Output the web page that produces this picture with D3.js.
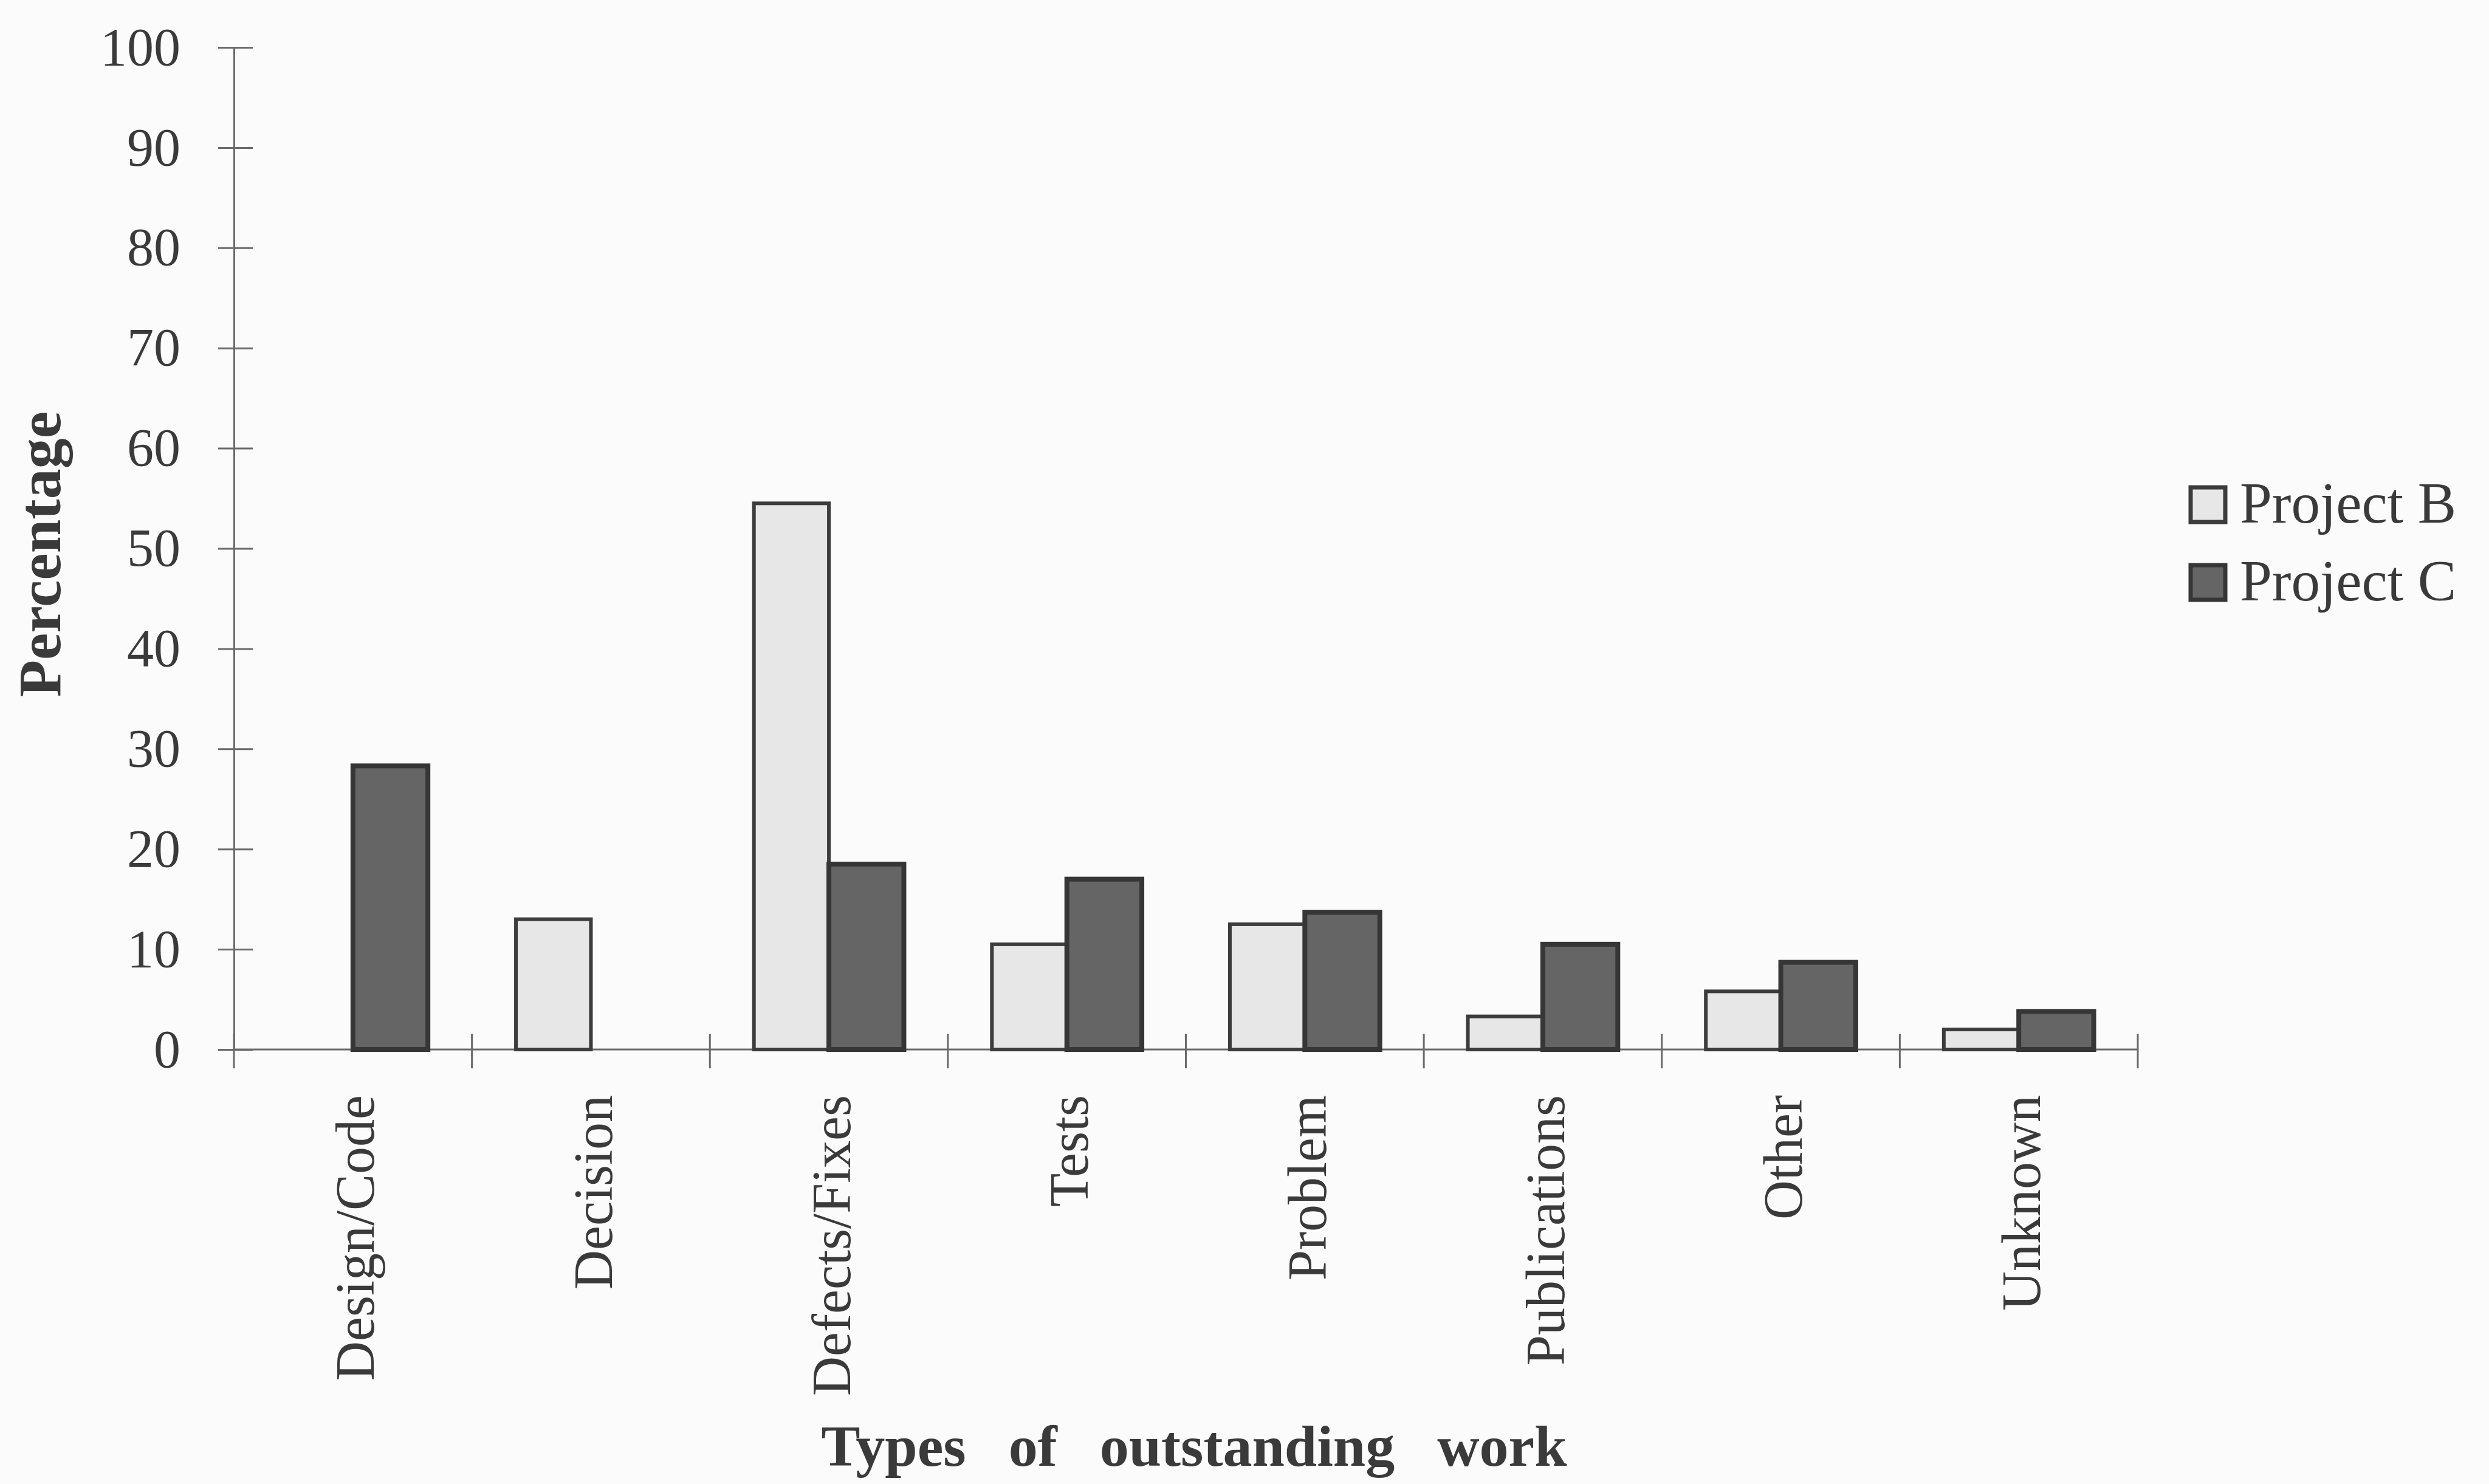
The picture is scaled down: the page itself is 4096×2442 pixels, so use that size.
<!DOCTYPE html>
<html>
<head>
<meta charset="utf-8">
<script src="https://cdn.jsdelivr.net/npm/d3@7"></script>
<style>
  html, body { margin: 0; padding: 0; background: #fbfbfb; }
  svg { display: block; }
  text { font-family: "Liberation Serif", "Times New Roman", serif; fill: #3a3a3a; }
</style>
</head>
<body>
<script>
// Outstanding work by type, two projects (percent of items)
const categories = ["Design/Code", "Decision", "Defects/Fixes", "Tests", "Problem", "Publications", "Other", "Unknown"];
const seriesNames = ["Project B", "Project C"];
const projectB = [0, 13, 54.5, 10.5, 12.5, 3.3, 5.8, 2.0];
const projectC = [28.3, 0, 18.5, 17.0, 13.7, 10.5, 8.7, 3.8];
const yTicks = [0, 10, 20, 30, 40, 50, 60, 70, 80, 90, 100];

const W = 4096, H = 2442;
const plot = { left: 385, right: 3518, top: 78, bottom: 1727 };

const fills = { "Project B": "#e7e7e7", "Project C": "#656565" };
const strokes = { "Project B": "#3c3c3c", "Project C": "#363636" };

const svg = d3.select("body").append("svg")
  .attr("width", W).attr("height", H);

svg.append("rect").attr("width", W).attr("height", H).attr("fill", "#fbfbfb");

const y = d3.scaleLinear().domain([0, 100]).range([plot.bottom, plot.top]);

const x0 = d3.scaleBand()
  .domain(categories)
  .range([plot.left, plot.right])
  .paddingInner(0.37)
  .paddingOuter(0.185);

const x1 = d3.scaleBand()
  .domain(seriesNames)
  .range([0, x0.bandwidth()])
  .padding(0);

const rows = categories.map((c, i) => ({
  category: c,
  values: [
    { series: "Project B", value: projectB[i] },
    { series: "Project C", value: projectC[i] }
  ]
}));

// Y axis: ticks cross the axis line
const yAxis = d3.axisLeft(y).tickValues(yTicks).tickSizeInner(0).tickSizeOuter(0).tickPadding(88);
const gy = svg.append("g").attr("transform", `translate(${plot.left},0)`).call(yAxis);
gy.select(".domain").attr("stroke", "#6a6a6a").attr("stroke-width", 3);
gy.selectAll(".tick line").attr("x1", -26).attr("x2", 31).attr("stroke", "#6a6a6a").attr("stroke-width", 3);
gy.selectAll(".tick text").attr("font-size", 88).attr("fill", "#3a3a3a")
  .style("font-family", "'Liberation Serif', serif");

// X axis baseline with boundary ticks between categories
const boundaries = categories.map(c => x0(c) - x0.step() * x0.paddingOuter());
boundaries.push(plot.right);
const gx = svg.append("g");
gx.append("line")
  .attr("x1", plot.left).attr("x2", plot.right)
  .attr("y1", y(0)).attr("y2", y(0))
  .attr("stroke", "#6a6a6a").attr("stroke-width", 3);
gx.selectAll("line.bt").data(boundaries).join("line")
  .attr("class", "bt")
  .attr("x1", d => d).attr("x2", d => d)
  .attr("y1", y(0) - 26).attr("y2", y(0) + 31)
  .attr("stroke", "#6a6a6a").attr("stroke-width", 3);

// Bars
const groups = svg.append("g").selectAll("g").data(rows).join("g")
  .attr("transform", d => `translate(${x0(d.category)},0)`);

groups.selectAll("rect").data(d => d.values.filter(v => v.value > 0)).join("rect")
  .attr("x", d => x1(d.series))
  .attr("y", d => y(d.value))
  .attr("width", x1.bandwidth())
  .attr("height", d => y(0) - y(d.value))
  .attr("fill", d => fills[d.series])
  .attr("stroke", d => strokes[d.series])
  .attr("stroke-width", d => d.series === "Project C" ? 8 : 6);

// Category labels, rotated
svg.append("g").selectAll("text").data(categories).join("text")
  .attr("transform", c => `translate(${x0(c) + x0.bandwidth() / 2 + 4},1802) rotate(-90)`)
  .attr("text-anchor", "end")
  .attr("dy", "0.34em")
  .attr("font-size", 90)
  .text(c => c);

// Axis titles
svg.append("text")
  .attr("transform", `translate(99,912) rotate(-90)`)
  .attr("text-anchor", "middle")
  .attr("font-size", 100)
  .attr("font-weight", "bold")
  .text("Percentage");

svg.append("text")
  .attr("x", 1965).attr("y", 2412)
  .attr("text-anchor", "middle")
  .attr("font-size", 96)
  .attr("font-weight", "bold")
  .attr("word-spacing", 46)
  .text("Types of outstanding work");

// Legend
const legend = svg.append("g").attr("transform", "translate(3605,802)");
const li = legend.selectAll("g").data(seriesNames).join("g")
  .attr("transform", (d, i) => `translate(0,${i * 128})`);
li.append("rect")
  .attr("width", 57).attr("height", 57)
  .attr("fill", d => fills[d])
  .attr("stroke", d => strokes[d])
  .attr("stroke-width", 7);
li.append("text")
  .attr("x", 81).attr("y", 58)
  .attr("font-size", 95)
  .text(d => d);
</script>
</body>
</html>
